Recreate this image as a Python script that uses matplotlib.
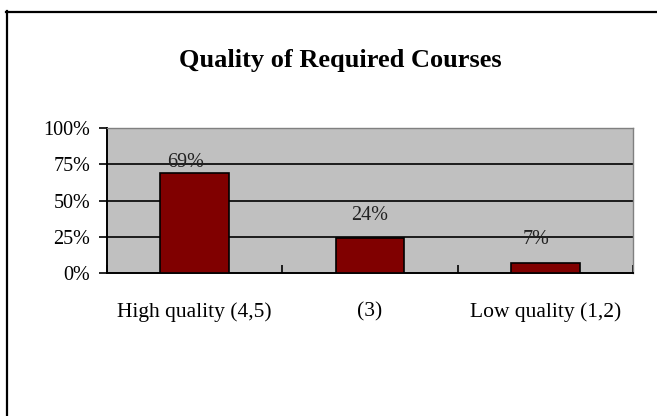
import matplotlib
matplotlib.use("Agg")
import matplotlib.pyplot as plt
from matplotlib.lines import Line2D
import numpy as np

# Veriler
categories = ["High quality (4,5)", "(3)", "Low quality (1,2)"]
values = [69, 24, 7]
y_ticks = [0, 25, 50, 75, 100]
title = "Quality of Required Courses"

# etiket kaydirmalari (piksel, cubuk tepesinden metin merkezine)
label_dx = [-9, 0, -9]
label_dy = [10, 23, 23]

plt.rcParams['font.family'] = ['Liberation Serif', 'DejaVu Serif']

fig = plt.figure(figsize=(6.57, 4.16), dpi=100)
fig.patch.set_facecolor("white")

# dis cerceve (sag ve alt kenar kesik)
W, H = 657, 416
fig.add_artist(Line2D([7 / W, 7 / W], [0, 1 - 11 / H], color="black", lw=1.6, transform=fig.transFigure))
fig.add_artist(Line2D([6 / W, 1], [1 - 12 / H, 1 - 12 / H], color="black", lw=1.6, transform=fig.transFigure))

ax = fig.add_axes([107 / W, 1 - 273 / H, (633 - 107) / W, (273 - 128) / H])
ax.set_facecolor("#C0C0C0")

x = np.arange(len(categories))
bars = ax.bar(x, values, width=0.39, color="#800000", edgecolor="black", linewidth=1.2, zorder=3)

ax.set_xlim(-0.5, len(categories) - 0.5)
ax.set_ylim(0, 100)

# yatay izgara cizgileri
for v in y_ticks[1:-1]:
    ax.axhline(v, color="black", lw=1.2, zorder=2)

ax.set_yticks(y_ticks)
ax.set_yticklabels([f"{v}%" for v in y_ticks], fontsize=14.5)
ax.tick_params(axis="y", direction="out", length=6, width=1.2, pad=6, colors="black")

ax.set_xticks(x)
ax.set_xticklabels(categories, fontsize=15.5)
ax.tick_params(axis="x", which="major", length=0, pad=21)
ax.set_xticks(np.arange(len(categories) + 1) - 0.5, minor=True)
ax.tick_params(axis="x", which="minor", direction="in", length=6, width=1.2)

for side in ["left", "bottom"]:
    ax.spines[side].set_color("black")
    ax.spines[side].set_linewidth(1.4)
for side in ["top", "right"]:
    ax.spines[side].set_color("#808080")
    ax.spines[side].set_linewidth(1.0)

for i, b in enumerate(bars):
    ax.annotate(f"{values[i]}%", (b.get_x() + b.get_width() / 2, b.get_height()),
                xytext=(label_dx[i] * 0.72, label_dy[i] * 0.72), textcoords="offset points",
                ha="center", va="center", fontsize=14.5, color="#222222", zorder=4)

fig.text(340 / W, 1 - 60 / H, title, ha="center", va="center", fontsize=19, fontweight="bold")

fig.savefig("out.png", dpi=100)
